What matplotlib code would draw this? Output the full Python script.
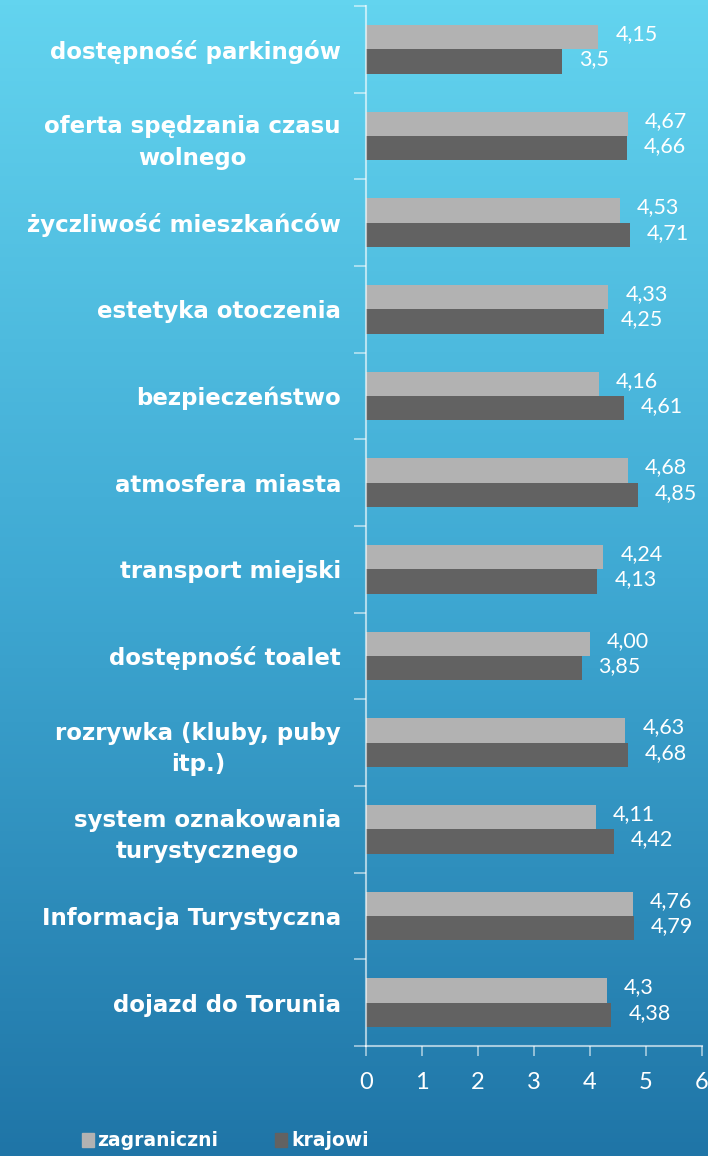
import matplotlib
matplotlib.use("Agg")
import matplotlib.pyplot as plt
import numpy as np
from matplotlib.colors import LinearSegmentedColormap
from matplotlib.patches import Rectangle

categories = [
    "dostępność parkingów",
    "oferta spędzania czasu\nwolnego",
    "życzliwość mieszkańców",
    "estetyka otoczenia",
    "bezpieczeństwo",
    "atmosfera miasta",
    "transport miejski",
    "dostępność toalet",
    "rozrywka (kluby, puby\nitp.)",
    "system oznakowania\nturystycznego",
    "Informacja Turystyczna",
    "dojazd do Torunia",
]
zagraniczni = [4.15, 4.67, 4.53, 4.33, 4.16, 4.68, 4.24, 4.00, 4.63, 4.11, 4.76, 4.30]
krajowi = [3.50, 4.66, 4.71, 4.25, 4.61, 4.85, 4.13, 3.85, 4.68, 4.42, 4.79, 4.38]
zagraniczni_labels = ["4,15", "4,67", "4,53", "4,33", "4,16", "4,68", "4,24", "4,00", "4,63", "4,11", "4,76", "4,3"]
krajowi_labels = ["3,5", "4,66", "4,71", "4,25", "4,61", "4,85", "4,13", "3,85", "4,68", "4,42", "4,79", "4,38"]
xticks = [0, 1, 2, 3, 4, 5, 6]

W, H = 708, 1156
fig = plt.figure(figsize=(W / 100, H / 100), dpi=100)

# background gradient
bg = fig.add_axes([0, 0, 1, 1], zorder=-10)
cmap = LinearSegmentedColormap.from_list("bg", ["#63D4EF", "#3FA9D3", "#1F75A7"])
grad = np.linspace(0, 1, 256).reshape(-1, 1)
bg.imshow(grad, aspect="auto", cmap=cmap, extent=[0, 1, 0, 1], origin="upper")
bg.set_axis_off()

ax = fig.add_axes([366 / W, 1 - 1046 / H, (702 - 366) / W, (1046 - 6) / H])
ax.patch.set_alpha(0)

n = len(categories)
y = np.arange(n)
h = 0.28
light = "#B2B2B2"
dark = "#626262"
ax.barh(y - h / 2, zagraniczni, height=h, color=light, label="zagraniczni")
ax.barh(y + h / 2, krajowi, height=h, color=dark, label="krajowi")

vfont = dict(color="white", fontsize=15.5, family="Lato", fontweight="normal")
for i in range(n):
    ax.annotate(zagraniczni_labels[i], (zagraniczni[i], y[i] - h / 2), xytext=(17, 3),
                textcoords="offset pixels", va="center", ha="left", **vfont)
    ax.annotate(krajowi_labels[i], (krajowi[i], y[i] + h / 2), xytext=(17, 2),
                textcoords="offset pixels", va="center", ha="left", **vfont)

ax.set_xlim(0, 6)
ax.set_ylim(n - 0.5, -0.5)
ax.set_xticks(xticks)
ax.set_xticklabels([str(t) for t in xticks], color="white", fontsize=17, family="Lato",
                   fontweight="normal")
ax.tick_params(axis="x", direction="out", length=7, width=1.2, color=(1, 1, 1, 0.6), pad=12)

ax.set_yticks(np.arange(-0.5, n, 1.0))
ax.set_yticklabels([])
ax.tick_params(axis="y", direction="out", length=9, width=1.2, color=(1, 1, 1, 0.6))
ax.set_yticks(y, minor=True)
ax.set_yticklabels(categories, minor=True, color="white", fontsize=16.5,
                   fontweight="bold", family="DejaVu Sans", multialignment="center",
                   linespacing=1.45)
ax.tick_params(axis="y", which="minor", length=0, pad=18)

for s in ["top", "right"]:
    ax.spines[s].set_visible(False)
for s in ["left", "bottom"]:
    ax.spines[s].set_color((1, 1, 1, 0.6))
    ax.spines[s].set_linewidth(1.5)

# legend
fig.patches.append(Rectangle((82 / W, 1 - 1147 / H), 12 / W, 14 / H, transform=fig.transFigure,
                             color=light))
fig.text(97 / W, 1 - 1140 / H, "zagraniczni", color="white", fontsize=13.5, fontweight="bold",
         family="DejaVu Sans", va="center", ha="left")
fig.patches.append(Rectangle((275 / W, 1 - 1147 / H), 12 / W, 14 / H, transform=fig.transFigure,
                             color=dark))
fig.text(291 / W, 1 - 1140 / H, "krajowi", color="white", fontsize=13.5, fontweight="bold",
         family="DejaVu Sans", va="center", ha="left")

fig.savefig("out.png", dpi=100)
